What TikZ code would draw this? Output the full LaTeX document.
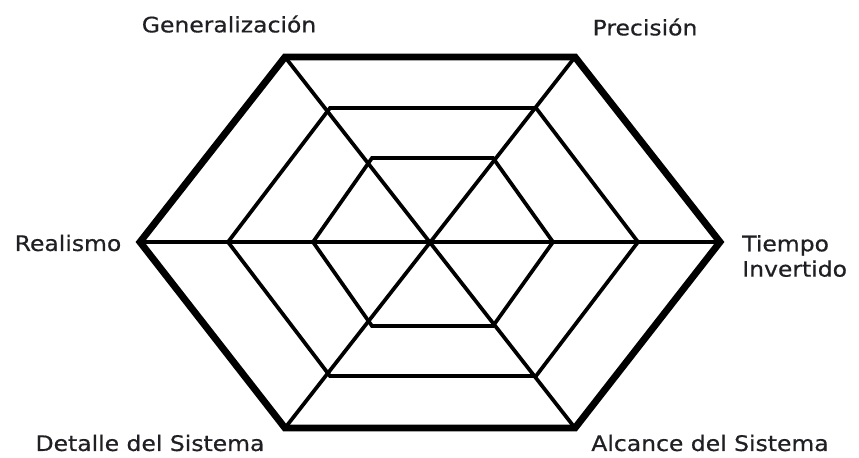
\documentclass[tikz,border=0pt]{standalone}
\usepackage{fontspec}
\setmainfont{DejaVu Sans}[FakeStretch=1.1, FakeBold=0.6]
\usetikzlibrary{positioning}
\definecolor{MyInk}{rgb}{0.12, 0.12, 0.14}

\begin{document}
\begin{tikzpicture}[x=0.75pt, y=-0.75pt,
		axislabel/.style={text=MyInk, font=\fontsize{16}{19}\selectfont, inner sep=0pt, align=left},
		rim/.style={line width=5.2pt, line join=miter},
		ring/.style={line width=2.8pt, line join=miter}]
		\useasboundingbox (0,0) rectangle (859,457);
		% hexagon corners: outer, middle, inner
		\coordinate (oL) at (140,242); \coordinate (oR) at (720,242);
		\coordinate (oTL) at (285,57); \coordinate (oTR) at (575,57);
		\coordinate (oBL) at (285,428); \coordinate (oBR) at (575,428);
		\coordinate (mL) at (228,242); \coordinate (mR) at (638,242);
		\coordinate (mTL) at (330,108); \coordinate (mTR) at (536,108);
		\coordinate (mBL) at (330,376); \coordinate (mBR) at (536,376);
		\coordinate (iL) at (313,242); \coordinate (iR) at (553,242);
		\coordinate (iTL) at (372,158); \coordinate (iTR) at (493,158);
		\coordinate (iBL) at (372,326); \coordinate (iBR) at (493,326);
		% spokes
		\draw[ring] (oL) -- (oR);
		\draw[ring] (oTL) -- (oBR);
		\draw[ring] (oTR) -- (oBL);
		% rings
		\foreach \h in {i,m}
			\draw[ring] (\h L) -- (\h TL) -- (\h TR) -- (\h R) -- (\h BR) -- (\h BL) -- cycle;
		\draw[rim] (oL) -- (oTL) -- (oTR) -- (oR) -- (oBR) -- (oBL) -- cycle;
		% axis names
		\node[axislabel] (gen) at (229,24) {Generalización};
		\node[axislabel] (prec) at (645,27) {Precisión};
		\node[axislabel] (real) at (68,243) {Realismo};
		\node[axislabel, anchor=west] (tiempo) at (742,256) {Tiempo\\Invertido};
		\node[axislabel] (detalle) at (150,443) {Detalle del Sistema};
		\node[axislabel] (alcance) at (710,443) {Alcance del Sistema};
	\end{tikzpicture}
\end{document}
